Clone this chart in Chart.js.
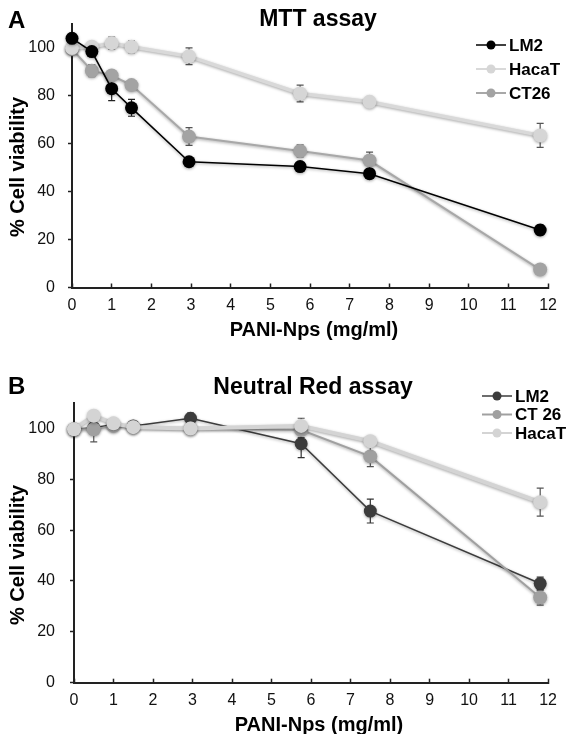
<!DOCTYPE html>
<html>
<head>
<meta charset="utf-8">
<script src="https://cdn.jsdelivr.net/npm/chart.js@4.4.0/dist/chart.umd.min.js"></script>
<style>
  html, body { margin: 0; padding: 0; background: #fff; overflow: hidden; }
  canvas { display: block; }
</style>
</head>
<body>
<canvas id="mttChart" width="569" height="367"></canvas>
<canvas id="nrChart" width="569" height="367"></canvas>
<script>
// PANI-Nps dose (mg/ml)
const doses = [0, 0.5, 1, 1.5, 2.95, 5.75, 7.5, 11.8];
const xTicks = [0, 1, 2, 3, 4, 5, 6, 7, 8, 9, 10, 11, 12];
const yTicks = [0, 20, 40, 60, 80, 100];

// MTT assay (% cell viability, +/- error)
const mttLM2 = [104, 98.5, 83, 75, 52.5, 50.5, 47.5, 24];
const mttLM2Err = [1, 1.5, 5, 3.5, 1, 1, 1.5, 2];
const mttHacaT = [100, 100.5, 102, 100.5, 96.5, 81, 77.5, 63.5];
const mttHacaTErr = [1, 1, 2.5, 2.5, 3.5, 3.5, 1, 5];
const mttCT26 = [99.5, 90.5, 88.5, 84.5, 63, 57, 53, 7.5];
const mttCT26Err = [1, 2.5, 1, 1, 3.7, 2.5, 3.5, 1];

// Neutral Red assay
const nrLM2 = [99.7, 100.3, 101.5, 101, 104, 94, 67.5, 39];
const nrLM2Err = [1, 1, 2, 1, 2, 5.5, 4.7, 2.5];
const nrCT26 = [99.7, 99.7, 101, 100.5, 100, 99.4, 89, 33.5];
const nrCT26Err = [1, 5, 1.5, 1.5, 1, 3, 4, 3];
const nrHacaT = [99.7, 105, 102, 100.5, 100, 101, 95, 71];
const nrHacaTErr = [1, 2, 1, 1, 2, 3, 1, 5.5];

const FONT = "'Liberation Sans', Arial, sans-serif";

function series(label, values, errs, fill, line, width, radius, errColor) {
  return {
    label: label,
    data: doses.map((d, i) => ({ x: d, y: values[i] })),
    errors: errs,
    errorColor: errColor,
    borderColor: line,
    backgroundColor: fill,
    pointBackgroundColor: fill,
    pointBorderColor: fill,
    pointBorderWidth: 0,
    pointRadius: radius,
    borderWidth: width,
    tension: 0,
    clip: false
  };
}

// vertical error bars with caps, through the chart scales
const errorBars = {
  id: 'errorBars',
  beforeDatasetsDraw(chart) {
    const ctx = chart.ctx;
    const xs = chart.scales.x, ys = chart.scales.y;
    chart.data.datasets.forEach(ds => {
      ctx.save();
      ctx.strokeStyle = ds.errorColor;
      ctx.lineWidth = 1.2;
      ds.data.forEach((p, j) => {
        const e = ds.errors[j];
        const x = xs.getPixelForValue(p.x);
        const top = ys.getPixelForValue(p.y + e);
        const bot = ys.getPixelForValue(p.y - e);
        ctx.beginPath();
        ctx.moveTo(x, top); ctx.lineTo(x, bot);
        ctx.moveTo(x - 3.5, top); ctx.lineTo(x + 3.5, top);
        ctx.moveTo(x - 3.5, bot); ctx.lineTo(x + 3.5, bot);
        ctx.stroke();
      });
      ctx.restore();
    });
  }
};

const softShadow = {
  id: 'softShadow',
  beforeDatasetDraw(chart) {
    const c = chart.ctx;
    c.save();
    c.shadowColor = 'rgba(0,0,0,0.35)';
    c.shadowBlur = 3;
    c.shadowOffsetY = 1;
  },
  afterDatasetDraw(chart) {
    chart.ctx.restore();
  }
};

// panel letter, title, axis titles and the line+marker legend
function panelDecor(cfg) {
  return {
    id: 'panelDecor',
    afterDraw(chart) {
      const ctx = chart.ctx;
      ctx.save();
      ctx.fillStyle = '#000';
      ctx.textBaseline = 'middle';

      ctx.font = 'bold 24px ' + FONT;
      ctx.textAlign = 'left';
      ctx.fillText(cfg.letter, 8, cfg.letterY);

      ctx.font = 'bold 23px ' + FONT;
      ctx.textAlign = 'center';
      ctx.fillText(cfg.title, cfg.titleX, cfg.titleY);

      ctx.font = 'bold 20px ' + FONT;
      ctx.fillText('PANI-Nps (mg/ml)', cfg.xTitleX, cfg.xTitleY);

      ctx.save();
      ctx.translate(18, cfg.yTitleY);
      ctx.rotate(-Math.PI / 2);
      ctx.fillText('% Cell viability', 0, 0);
      ctx.restore();

      cfg.legendOrder.forEach((idx, k) => {
        const ds = chart.data.datasets[idx];
        const y = cfg.legendY + k * cfg.legendGap;
        const x0 = cfg.legendX;
        ctx.strokeStyle = ds.borderColor;
        ctx.lineWidth = Math.min(ds.borderWidth, 2);
        ctx.beginPath();
        ctx.moveTo(x0, y); ctx.lineTo(x0 + 30, y);
        ctx.stroke();
        ctx.fillStyle = ds.pointBackgroundColor;
        ctx.beginPath();
        ctx.arc(x0 + 15, y, 4.5, 0, Math.PI * 2);
        ctx.fill();
        ctx.fillStyle = '#000';
        ctx.font = 'bold 17px ' + FONT;
        ctx.textAlign = 'left';
        ctx.fillText(ds.label, x0 + 33, y + 1);
      });
      ctx.restore();
    }
  };
}

function buildOptions(yWidth, xHeight, padTop, padRight, yPad) {
  return {
    responsive: false,
    animation: false,
    devicePixelRatio: 1,
    layout: { padding: { left: 0, right: padRight, top: padTop, bottom: 0 } },
    plugins: { legend: { display: false }, tooltip: { enabled: false } },
    scales: {
      x: {
        type: 'linear',
        min: 0,
        max: 12,
        afterBuildTicks: s => { s.ticks = xTicks.map(v => ({ value: v })); },
        afterFit: s => { s.height = xHeight; },
        grid: { display: true, drawOnChartArea: false, drawTicks: true, tickLength: -4, tickColor: '#222', tickWidth: 1.5 },
        border: { display: true, color: '#222', width: 2 },
        ticks: { font: { family: FONT, size: 16 }, color: '#111', padding: 12, maxRotation: 0 }
      },
      y: {
        min: 0,
        max: 110,
        afterBuildTicks: s => { s.ticks = yTicks.map(v => ({ value: v })); },
        afterFit: s => { s.width = yWidth; },
        grid: { display: true, drawOnChartArea: false, drawTicks: true, tickLength: 4, tickColor: '#222', tickWidth: 1.5 },
        border: { display: true, color: '#222', width: 2 },
        ticks: { font: { family: FONT, size: 16 }, color: '#111', padding: yPad }
      }
    }
  };
}

new Chart(document.getElementById('mttChart').getContext('2d'), {
  type: 'line',
  data: {
    datasets: [
      series('LM2', mttLM2, mttLM2Err, '#000000', '#000000', 1.5, 6.5, '#222222'),
      series('HacaT', mttHacaT, mttHacaTErr, '#d6d6d6', '#d9d9d9', 3.5, 7, '#555555'),
      series('CT26', mttCT26, mttCT26Err, '#a3a3a3', '#a8a8a8', 2, 7, '#555555')
    ]
  },
  options: buildOptions(72, 79.5, 24, 20, 13),
  plugins: [errorBars, softShadow, panelDecor({
    letter: 'A', letterY: 21, title: 'MTT assay', titleX: 318, titleY: 20,
    xTitleX: 314, xTitleY: 330, yTitleY: 167,
    legendOrder: [0, 1, 2], legendX: 476, legendY: 45, legendGap: 24
  })]
});

new Chart(document.getElementById('nrChart').getContext('2d'), {
  type: 'line',
  data: {
    datasets: [
      series('HacaT', nrHacaT, nrHacaTErr, '#d4d4d4', '#d4d4d4', 4, 7, '#555555'),
      series('CT 26', nrCT26, nrCT26Err, '#a0a0a0', '#a0a0a0', 2, 7, '#555555'),
      series('LM2', nrLM2, nrLM2Err, '#3c3c3c', '#3c3c3c', 1.5, 6.5, '#333333')
    ]
  },
  options: buildOptions(74, 51.3, 36, 10, 15),
  plugins: [errorBars, softShadow, panelDecor({
    letter: 'B', letterY: 20, title: 'Neutral Red assay', titleX: 313, titleY: 20.5,
    xTitleX: 319, xTitleY: 358, yTitleY: 188,
    legendOrder: [2, 1, 0], legendX: 482, legendY: 29, legendGap: 18.5
  })]
});
</script>
</body>
</html>
